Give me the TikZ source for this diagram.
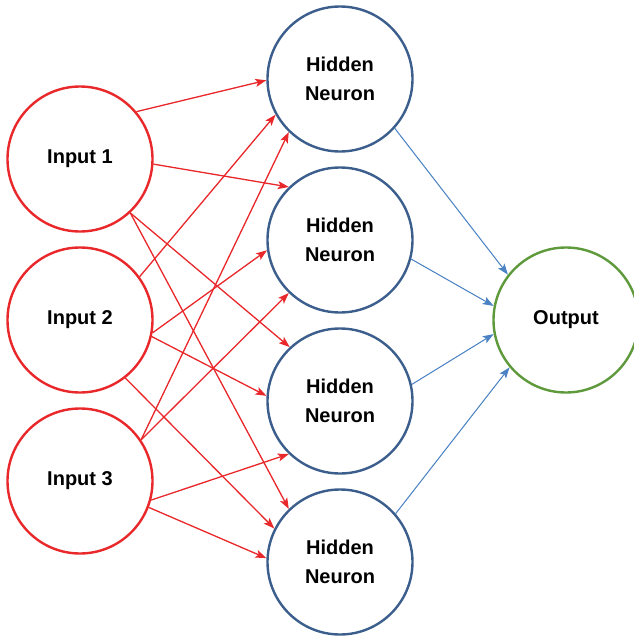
\documentclass[tikz,border=0pt]{standalone}
\usepackage{fontspec}
\setmainfont{Liberation Sans}
\usetikzlibrary{arrows.meta}
\definecolor{inred}{HTML}{E8282B}
\definecolor{hidblue}{HTML}{3B5E8C}
\definecolor{arrblue}{HTML}{4A82C3}
\definecolor{outgreen}{HTML}{5E9A3C}

\begin{document}
\begin{tikzpicture}[x=1pt,y=-1pt,
  neuron/.style={draw,circle,minimum size=145pt,inner sep=0pt,line width=2.4pt,fill=white,
    align=center,font=\fontsize{20}{29}\selectfont\bfseries},
  inp/.style={neuron,draw=inred},
  hid/.style={neuron,draw=hidblue},
  outp/.style={neuron,draw=outgreen},
  redarr/.style={-{Stealth[length=11pt,width=8pt,inset=2.5pt]},draw=inred,fill=inred,line width=1.3pt},
  bluearr/.style={-{Stealth[length=11pt,width=8pt,inset=2.5pt]},draw=arrblue,fill=arrblue,line width=1pt}]
\useasboundingbox (0,0) rectangle (634,637);
\node[inp] (i1) at (80,159) {Input 1};
\node[inp] (i2) at (80,320) {Input 2};
\node[inp] (i3) at (80,481) {Input 3};
\node[hid] (h1) at (340,79) {Hidden\\Neuron};
\node[hid] (h2) at (340,240) {Hidden\\Neuron};
\node[hid] (h3) at (340,401) {Hidden\\Neuron};
\node[hid] (h4) at (340,562) {Hidden\\Neuron};
\node[outp] (o) at (566,320) {Output};
\draw[redarr] (i1.40) -- (h1.181);
\draw[redarr] (i1.-4) -- (h2.134);
\draw[redarr] (i1.-47) -- (h3.133);
\draw[redarr] (i1.-47) -- (h4.134);
\draw[redarr] (i2.36) -- (h1.209);
\draw[redarr] (i2.-10) -- (h2.188);
\draw[redarr] (i2.-13) -- (h3.176);
\draw[redarr] (i2.-52) -- (h4.153);
\draw[redarr] (i3.34) -- (h1.226);
\draw[redarr] (i3.34) -- (h2.226);
\draw[redarr] (i3.-15) -- (h3.226);
\draw[redarr] (i3.-21) -- (h4.177);
\draw[bluearr] (h1.-42) -- (o.142);
\draw[bluearr] (h2.-15) -- (o.169);
\draw[bluearr] (h3.13) -- (o.191);
\draw[bluearr] (h4.41) -- (o.220);
\end{tikzpicture}
\end{document}
